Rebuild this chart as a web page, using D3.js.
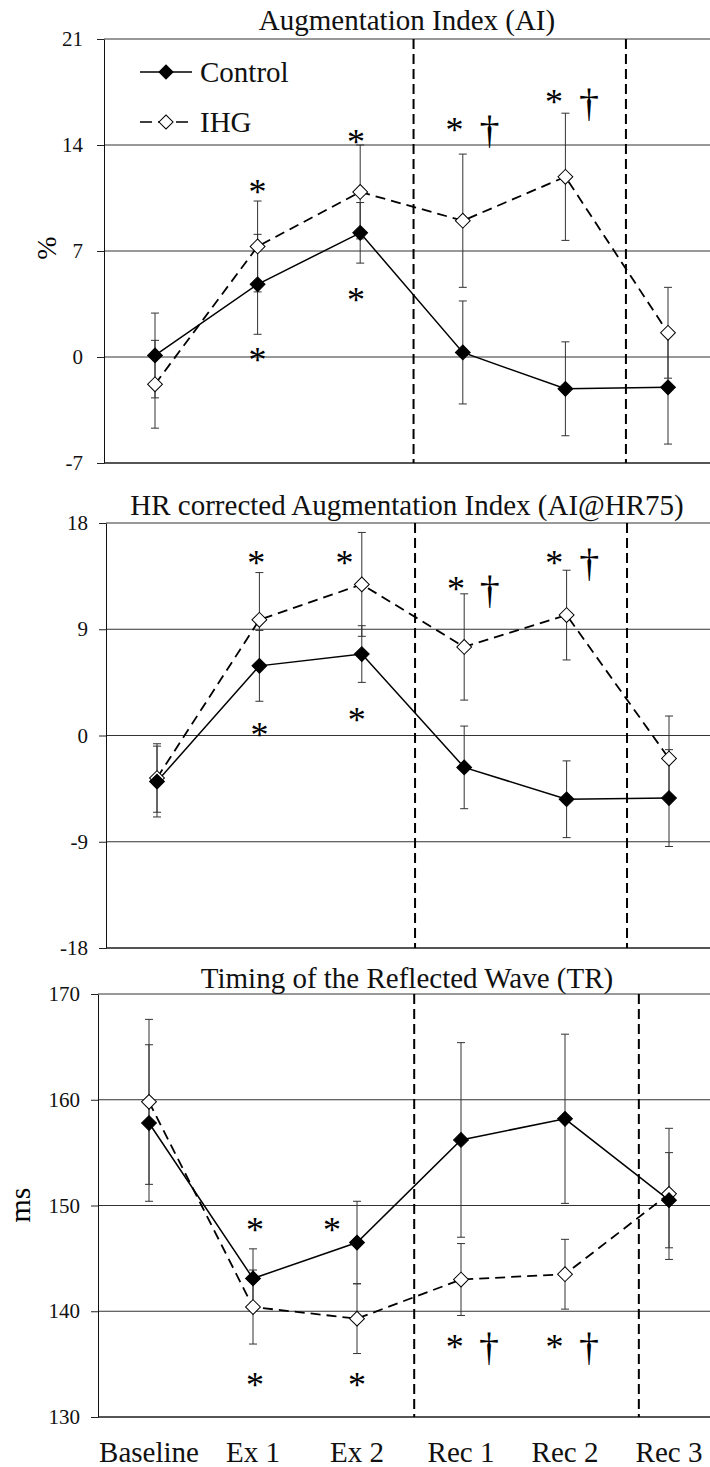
<!DOCTYPE html>
<html>
<head>
<meta charset="utf-8">
<script src="https://cdn.jsdelivr.net/npm/d3@7"></script>
<style>
  body { margin: 0; background: #fff; }
  svg { display: block; font-family: "Liberation Serif", "Times New Roman", serif; }
</style>
</head>
<body>
<div id="chart"></div>
<script>
// categories on the x axis (shared by the three panels)
var categories = ['Baseline', 'Ex 1', 'Ex 2', 'Rec 1', 'Rec 2', 'Rec 3'];

// Augmentation Index (AI), %
var aiControl = [0.1, 4.8, 8.2, 0.3, -2.1, -2.0];
var aiControlErr = [2.8, 3.3, 2.0, 3.4, 3.1, 3.75];
var aiIhg = [-1.8, 7.3, 10.9, 9.0, 11.9, 1.6];
var aiIhgErr = [2.9, 3.0, 3.1, 4.4, 4.2, 3.0];
var aiTicks = [-7, 0, 7, 14, 21];

// HR corrected AI (AI@HR75), %
var hrControl = [-3.9, 5.9, 6.9, -2.7, -5.4, -5.3];
var hrControlErr = [3.0, 3.0, 2.4, 3.5, 3.25, 4.1];
var hrIhg = [-3.6, 9.8, 12.8, 7.5, 10.2, -1.95];
var hrIhgErr = [2.9, 4.0, 4.4, 4.5, 3.8, 3.6];
var hrTicks = [-18, -9, 0, 9, 18];

// Timing of the reflected wave (TR), ms
var trControl = [157.8, 143.1, 146.5, 156.2, 158.2, 150.5];
var trControlErr = [7.4, 2.8, 3.9, 9.2, 8.0, 4.5];
var trIhg = [159.8, 140.4, 139.3, 143.0, 143.5, 151.1];
var trIhgErr = [7.8, 3.5, 3.3, 3.4, 3.3, 6.2];
var trTicks = [130, 140, 150, 160, 170];

// significance marks: category, shift (in category steps), value, symbol
var aiMarks = [
  ['Ex 1', 0, 11.2, '*'], ['Ex 1', 0, 0.1, '*'],
  ['Ex 2', -0.04, 14.5, '*'], ['Ex 2', -0.04, 4.1, '*'],
  ['Rec 1', -0.08, 15.35, '*'], ['Rec 1', 0.26, 14.83, '\u2020'],
  ['Rec 2', -0.11, 17.2, '*'], ['Rec 2', 0.23, 16.6, '\u2020']
];
var hrMarks = [
  ['Ex 1', -0.03, 15.0, '*'], ['Ex 1', 0, 0.5, '*'],
  ['Ex 2', -0.17, 15.0, '*'], ['Ex 2', -0.05, 1.7, '*'],
  ['Rec 1', -0.08, 12.8, '*'], ['Rec 1', 0.25, 12.1, '\u2020'],
  ['Rec 2', -0.12, 15.0, '*'], ['Rec 2', 0.22, 14.4, '\u2020']
];
var trMarks = [
  ['Ex 1', 0.02, 148.2, '*'], ['Ex 1', 0.02, 133.5, '*'],
  ['Ex 2', -0.24, 148.2, '*'], ['Ex 2', 0, 133.5, '*'],
  ['Rec 1', -0.06, 137.1, '*'], ['Rec 1', 0.27, 136.35, '\u2020'],
  ['Rec 2', -0.1, 137.1, '*'], ['Rec 2', 0.23, 136.35, '\u2020']
];

// dashed separators, in category steps from Baseline
var aiDividers = [2.52, 4.59];
var hrDividers = [2.52, 4.59];
var trDividers = [2.55, 4.71];

var width = 710;
var height = 1467;

var svg = d3.select('#chart').append('svg')
  .attr('width', width).attr('height', height);

svg.append('rect').attr('width', width).attr('height', height).attr('fill', '#fff');

// one panel = one chart with its own y scale
function drawPanel(p) {
  var x = d3.scalePoint().domain(categories).range([p.xFirst, p.xLast]);
  var step = x.step();
  var y = d3.scaleLinear().domain(d3.extent(p.ticks)).range([p.bottom, p.top]);

  var g = svg.append('g');

  // horizontal gridlines, from the axis to the right edge
  g.selectAll('.grid').data(p.ticks).enter()
    .append('line')
    .attr('x1', p.left).attr('x2', width)
    .attr('y1', function(d) { return y(d); })
    .attr('y2', function(d) { return y(d); })
    .attr('stroke', function(d, i) { return (i === 0) ? '#555' : '#333'; })
    .attr('stroke-width', function(d, i) { return (i === 0) ? 2 : 1; });

  // left axis (plain hyphen for negatives, like the original)
  var axis = g.append('g')
    .attr('transform', 'translate(' + p.left + ',0)')
    .call(d3.axisLeft(y).tickValues(p.ticks).tickSize(7).tickSizeOuter(0)
      .tickPadding(p.pad).tickFormat(function(d) { return String(d); }));
  axis.selectAll('path').attr('stroke', '#111');
  axis.selectAll('line').attr('stroke', '#222');
  axis.selectAll('text')
    .attr('fill', '#111')
    .style('font-family', '"Liberation Serif", "Times New Roman", serif')
    .style('font-size', '21px');

  // dashed separators
  g.selectAll('.divider').data(p.dividers).enter()
    .append('line')
    .attr('x1', function(d) { return x(categories[0]) + d * step; })
    .attr('x2', function(d) { return x(categories[0]) + d * step; })
    .attr('y1', p.top).attr('y2', p.bottom)
    .attr('stroke', '#000')
    .attr('stroke-width', 2)
    .attr('stroke-dasharray', '10,5');

  // title
  svg.append('text')
    .attr('x', 407).attr('y', p.titleY)
    .attr('text-anchor', 'middle')
    .style('font-size', '29px')
    .attr('fill', '#111')
    .text(p.title);

  var series = [
    {values: p.ihg, err: p.ihgErr, dash: '10,6', fill: '#fff'},
    {values: p.control, err: p.controlErr, dash: null, fill: '#000'}
  ];

  // error bars first, markers go on top
  series.forEach(function(s) {
    var pts = categories.map(function(c, i) {
      return {c: c, v: s.values[i], e: s.err[i]};
    });
    var bars = g.append('g');
    bars.selectAll('line.v').data(pts).enter()
      .append('line')
      .attr('x1', function(d) { return x(d.c); })
      .attr('x2', function(d) { return x(d.c); })
      .attr('y1', function(d) { return y(d.v + d.e); })
      .attr('y2', function(d) { return y(d.v - d.e); })
      .attr('stroke', '#333').attr('stroke-width', 1);
    [1, -1].forEach(function(sign) {
      bars.selectAll('line.cap' + sign).data(pts).enter()
        .append('line')
        .attr('x1', function(d) { return x(d.c) - 4; })
        .attr('x2', function(d) { return x(d.c) + 4; })
        .attr('y1', function(d) { return y(d.v + sign * d.e); })
        .attr('y2', function(d) { return y(d.v + sign * d.e); })
        .attr('stroke', '#333').attr('stroke-width', 1);
    });
  });

  var line = d3.line()
    .x(function(d, i) { return x(categories[i]); })
    .y(function(d) { return y(d); });

  series.forEach(function(s) {
    g.append('path')
      .datum(s.values)
      .attr('d', line)
      .attr('fill', 'none')
      .attr('stroke', '#000')
      .attr('stroke-width', s.dash ? 1.8 : 1.5)
      .attr('stroke-dasharray', s.dash);
  });

  var diamond = d3.symbol().type(d3.symbolSquare).size(110);
  series.forEach(function(s) {
    g.selectAll(null).data(s.values).enter()
      .append('path')
      .attr('d', diamond)
      .attr('transform', function(d, i) {
        return 'translate(' + x(categories[i]) + ',' + y(d) + ') rotate(45)';
      })
      .attr('fill', s.fill)
      .attr('stroke', '#000')
      .attr('stroke-width', 1);
  });

  // significance marks (* and dagger)
  g.selectAll('.mark').data(p.marks).enter()
    .append('text')
    .attr('x', function(d) { return x(d[0]) + d[1] * step; })
    .attr('y', function(d) { return y(d[2]) + (d[3] === '*' ? 17 : 10.5); })
    .attr('text-anchor', 'middle')
    .style('font-size', function(d) { return d[3] === '*' ? '36px' : '40px'; })
    .attr('fill', '#000')
    .text(function(d) { return d[3]; });

  return x;
}

drawPanel({
  title: 'Augmentation Index (AI)', titleY: 30,
  left: 104, top: 39, bottom: 463, xFirst: 155, xLast: 668, pad: 14,
  ticks: aiTicks, dividers: aiDividers, marks: aiMarks,
  control: aiControl, controlErr: aiControlErr, ihg: aiIhg, ihgErr: aiIhgErr
});

drawPanel({
  title: 'HR corrected Augmentation Index (AI@HR75)', titleY: 515,
  left: 106, top: 523, bottom: 948, xFirst: 157, xLast: 669, pad: 11,
  ticks: hrTicks, dividers: hrDividers, marks: hrMarks,
  control: hrControl, controlErr: hrControlErr, ihg: hrIhg, ihgErr: hrIhgErr
});

var xBottom = drawPanel({
  title: 'Timing of the Reflected Wave (TR)', titleY: 988,
  left: 98, top: 994, bottom: 1417, xFirst: 149, xLast: 669, pad: 11,
  ticks: trTicks, dividers: trDividers, marks: trMarks,
  control: trControl, controlErr: trControlErr, ihg: trIhg, ihgErr: trIhgErr
});

// category labels under the bottom panel
svg.selectAll('.xlabel').data(categories).enter()
  .append('text')
  .attr('x', function(d) { return xBottom(d); })
  .attr('y', 1462)
  .attr('text-anchor', 'middle')
  .style('font-size', '29px')
  .attr('fill', '#111')
  .text(function(d) { return d; });

// y axis titles
svg.append('text')
  .attr('transform', 'translate(56,248) rotate(-90)')
  .attr('text-anchor', 'middle')
  .style('font-size', '28px')
  .text('%');
svg.append('text')
  .attr('transform', 'translate(30,1205) rotate(-90)')
  .attr('text-anchor', 'middle')
  .style('font-size', '30px')
  .text('ms');

// legend (top panel)
var legend = svg.append('g');
var legendItems = [
  {name: 'Control', y: 72, fill: '#000', dash: null},
  {name: 'IHG', y: 122, fill: '#fff', dash: '12,6'}
];
legendItems.forEach(function(d) {
  legend.append('line')
    .attr('x1', 140).attr('x2', 192)
    .attr('y1', d.y).attr('y2', d.y)
    .attr('stroke', '#000').attr('stroke-width', 1.6)
    .attr('stroke-dasharray', d.dash);
  legend.append('path')
    .attr('d', d3.symbol().type(d3.symbolSquare).size(100))
    .attr('transform', 'translate(166,' + d.y + ') rotate(45)')
    .attr('fill', d.fill).attr('stroke', '#000').attr('stroke-width', 1);
  legend.append('text')
    .attr('x', 200).attr('y', d.y + 10)
    .style('font-size', '29px')
    .attr('fill', '#111')
    .text(d.name);
});
</script>
</body>
</html>
